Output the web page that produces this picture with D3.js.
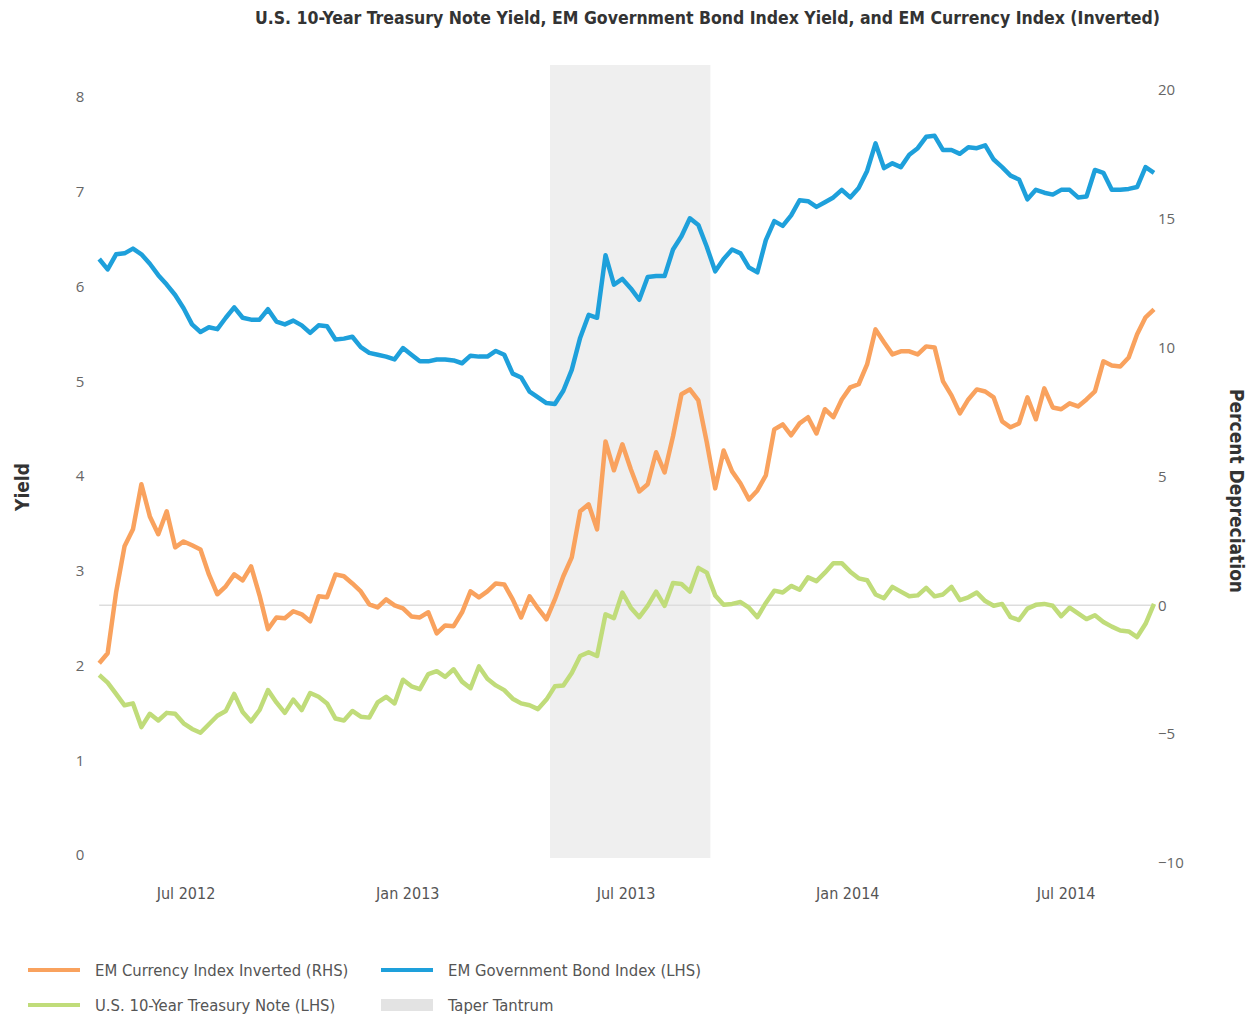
<!DOCTYPE html>
<html>
<head>
<meta charset="utf-8">
<script src="https://cdn.jsdelivr.net/npm/d3@7"></script>
<style>
  body { margin: 0; background: #fff; }
  svg { display: block; }
  .title { font-family: "Liberation Sans Narrow", "DejaVu Sans Condensed", sans-serif; font-weight: bold; font-size: 18px; fill: #333; }
  .ytick { font-family: "Open Sans", sans-serif; font-size: 15px; fill: #666; }
  .xtick { font-family: "Liberation Sans Narrow", "DejaVu Sans Condensed", sans-serif; font-size: 16px; fill: #555; }
  .atitle { font-family: "Liberation Sans Narrow", "DejaVu Sans Condensed", sans-serif; font-weight: bold; font-size: 19px; fill: #333; }
  .legend { font-family: "Liberation Sans Narrow", "DejaVu Sans Condensed", sans-serif; font-size: 16.5px; fill: #555; }
</style>
</head>
<body>
<svg id="chart" width="1254" height="1015"></svg>
<script>
// weekly observations, Fridays from 20 Apr 2012 to 12 Sep 2014
var weeks = d3.timeFriday.range(new Date(2012, 3, 20), new Date(2014, 8, 13));

// EM Government Bond Index yield (LHS, %)
var emBond = [
  6.29, 6.18, 6.34, 6.35, 6.40, 6.34, 6.24, 6.12, 6.02, 5.91,
  5.77, 5.60, 5.52, 5.57, 5.55, 5.67, 5.78, 5.67, 5.65, 5.65,
  5.76, 5.63, 5.60, 5.64, 5.59, 5.51, 5.59, 5.58, 5.44, 5.45,
  5.47, 5.36, 5.30, 5.28, 5.26, 5.23, 5.35, 5.28, 5.21, 5.21,
  5.23, 5.23, 5.22, 5.19, 5.27, 5.26, 5.26, 5.32, 5.28, 5.08,
  5.04, 4.89, 4.83, 4.77, 4.76, 4.90, 5.12, 5.46, 5.70, 5.67,
  6.33, 6.02, 6.08, 5.98, 5.86, 6.10, 6.11, 6.11, 6.39, 6.53,
  6.72, 6.65, 6.42, 6.16, 6.29, 6.39, 6.35, 6.20, 6.15, 6.49,
  6.69, 6.64, 6.75, 6.91, 6.90, 6.84, 6.89, 6.94, 7.02, 6.94,
  7.04, 7.22, 7.51, 7.25, 7.30, 7.26, 7.39, 7.46, 7.58, 7.59,
  7.44, 7.44, 7.40, 7.47, 7.46, 7.49, 7.34, 7.26, 7.17, 7.13,
  6.92, 7.02, 6.99, 6.97, 7.02, 7.02, 6.94, 6.95, 7.23, 7.20,
  7.02, 7.02, 7.03, 7.05, 7.26, 7.20
];

// U.S. 10-Year Treasury Note yield (LHS, %)
var ust10 = [
  1.90, 1.82, 1.70, 1.58, 1.60, 1.35, 1.49, 1.42, 1.50, 1.49,
  1.39, 1.33, 1.29, 1.38, 1.47, 1.52, 1.70, 1.51, 1.41, 1.53,
  1.74, 1.61, 1.50, 1.64, 1.53, 1.71, 1.67, 1.60, 1.44, 1.42,
  1.52, 1.46, 1.45, 1.61, 1.67, 1.60, 1.85, 1.78, 1.75, 1.91,
  1.94, 1.88, 1.96, 1.83, 1.76, 1.99, 1.86, 1.79, 1.74, 1.65,
  1.60, 1.58, 1.54, 1.64, 1.78, 1.79, 1.92, 2.10, 2.14, 2.10,
  2.54, 2.50, 2.77, 2.61, 2.51, 2.63, 2.78, 2.63, 2.87, 2.86,
  2.78, 3.03, 2.98, 2.74, 2.64, 2.65, 2.67, 2.61, 2.51, 2.66,
  2.79, 2.77, 2.84, 2.80, 2.93, 2.89, 2.98, 3.08, 3.08, 2.99,
  2.92, 2.90, 2.75, 2.71, 2.83, 2.78, 2.73, 2.74, 2.82, 2.73,
  2.75, 2.83, 2.69, 2.72, 2.77, 2.68, 2.63, 2.65, 2.51, 2.48,
  2.60, 2.64, 2.65, 2.63, 2.52, 2.61, 2.55, 2.49, 2.53, 2.46,
  2.41, 2.37, 2.36, 2.30, 2.44, 2.65
];

// EM Currency Index inverted (RHS, percent depreciation)
var emCcy = [
  -2.25, -1.86, 0.50, 2.29, 2.95, 4.70, 3.45, 2.76, 3.65, 2.25,
  2.48, 2.33, 2.17, 1.20, 0.43, 0.74, 1.20, 0.97, 1.51, 0.39,
  -0.93, -0.47, -0.50, -0.23, -0.35, -0.62, 0.35, 0.31, 1.20, 1.13,
  0.85, 0.54, 0.04, -0.08, 0.23, 0.00, -0.12, -0.43, -0.47, -0.27,
  -1.09, -0.78, -0.81, -0.27, 0.54, 0.31, 0.54, 0.85, 0.81, 0.23,
  -0.47, 0.35, -0.12, -0.54, 0.23, 1.13, 1.86, 3.65, 3.92, 2.95,
  6.36, 5.24, 6.25, 5.28, 4.42, 4.70, 5.94, 5.16, 6.56, 8.19,
  8.38, 7.95, 6.33, 4.54, 6.01, 5.20, 4.73, 4.11, 4.46, 5.04,
  6.83, 7.02, 6.60, 7.06, 7.30, 6.67, 7.61, 7.30, 7.99, 8.46,
  8.58, 9.35, 10.71, 10.21, 9.74, 9.86, 9.86, 9.74, 10.05, 10.01,
  8.69, 8.15, 7.45, 7.99, 8.38, 8.30, 8.07, 7.14, 6.91, 7.06,
  8.07, 7.22, 8.42, 7.68, 7.61, 7.84, 7.72, 7.99, 8.30, 9.47,
  9.31, 9.27, 9.62, 10.52, 11.18, 11.49
];

var taper = [new Date(2013, 3, 29), new Date(2013, 8, 9)];

var leftTicks = [0, 1, 2, 3, 4, 5, 6, 7, 8];
var rightTicks = [-10, -5, 0, 5, 10, 15, 20];
var xTicks = [new Date(2012, 6, 1), new Date(2013, 0, 1), new Date(2013, 6, 1), new Date(2014, 0, 1), new Date(2014, 6, 1)];

var colors = { ccy: "#f9a25e", bond: "#1ea0db", ust: "#c0dc7a", band: "#efefef" };

var plotTop = 65, plotBottom = 858;

var svg = d3.select("#chart");

var x = d3.scaleTime()
	.domain([new Date(2012, 6, 1), new Date(2014, 6, 1)])
	.range([186, 1066]);
var yL = d3.scaleLinear().domain([0, 8]).range([855, 97]);
var yR = d3.scaleLinear().domain([-10, 20]).range([863, 90]);

// taper tantrum band
svg.append("rect")
	.attr("x", x(taper[0]))
	.attr("width", x(taper[1]) - x(taper[0]))
	.attr("y", plotTop)
	.attr("height", plotBottom - plotTop)
	.attr("fill", colors.band);

// zero line of the right axis
svg.append("line")
	.attr("x1", x(weeks[0]))
	.attr("x2", x(weeks[weeks.length - 1]))
	.attr("y1", yR(0))
	.attr("y2", yR(0))
	.attr("stroke", "#dddddd")
	.attr("stroke-width", 1.5);

// left axis labels
svg.append("g").selectAll("text")
	.data(leftTicks)
	.enter().append("text")
	.attr("class", "ytick")
	.attr("x", 80)
	.attr("y", function(d) { return yL(d); })
	.attr("dy", "0.35em")
	.attr("text-anchor", "middle")
	.text(function(d) { return d; });

// right axis labels
svg.append("g").selectAll("text")
	.data(rightTicks)
	.enter().append("text")
	.attr("class", "ytick")
	.attr("x", 1158)
	.attr("y", function(d) { return yR(d); })
	.attr("dy", "0.35em")
	.text(function(d) { return d3.format("d")(d); });

// x axis labels
svg.append("g").selectAll("text")
	.data(xTicks)
	.enter().append("text")
	.attr("class", "xtick")
	.attr("x", function(d) { return x(d); })
	.attr("y", 899)
	.attr("text-anchor", "middle")
	.text(d3.timeFormat("%b %Y"));

// lines
function drawLine(values, scale, color) {
	var line = d3.line()
		.x(function(d, i) { return x(weeks[i]); })
		.y(function(d) { return scale(d); });
	svg.append("path")
		.datum(values)
		.attr("d", line)
		.attr("fill", "none")
		.attr("stroke", color)
		.attr("stroke-width", 4.5)
		.attr("stroke-linejoin", "round");
}
drawLine(ust10, yL, colors.ust);
drawLine(emCcy, yR, colors.ccy);
drawLine(emBond, yL, colors.bond);

// titles
svg.append("text")
	.attr("class", "title")
	.attr("x", 1160)
	.attr("y", 24)
	.attr("text-anchor", "end")
	.attr("textLength", 905)
	.attr("lengthAdjust", "spacingAndGlyphs")
	.text("U.S. 10-Year Treasury Note Yield, EM Government Bond Index Yield, and EM Currency Index (Inverted)");

svg.append("text")
	.attr("class", "atitle")
	.attr("transform", "translate(29,487) rotate(-90)")
	.attr("text-anchor", "middle")
	.text("Yield");

svg.append("text")
	.attr("class", "atitle")
	.attr("transform", "translate(1230,491) rotate(90)")
	.attr("text-anchor", "middle")
	.text("Percent Depreciation");

// legend
var legendItems = [
	{ label: "EM Currency Index Inverted (RHS)", color: colors.ccy, kind: "line", col: 0, row: 0 },
	{ label: "EM Government Bond Index (LHS)", color: colors.bond, kind: "line", col: 1, row: 0 },
	{ label: "U.S. 10-Year Treasury Note (LHS)", color: colors.ust, kind: "line", col: 0, row: 1 },
	{ label: "Taper Tantrum", color: "#e3e3e3", kind: "box", col: 1, row: 1 }
];

var legend = svg.append("g").selectAll("g")
	.data(legendItems)
	.enter().append("g")
	.attr("transform", function(d) { return "translate(" + (28 + d.col * 353) + "," + (970 + d.row * 35) + ")"; });

legend.filter(function(d) { return d.kind == "line"; })
	.append("rect")
	.attr("x", 0)
	.attr("y", -2)
	.attr("width", 52)
	.attr("height", 4)
	.attr("fill", function(d) { return d.color; });

legend.filter(function(d) { return d.kind == "box"; })
	.append("rect")
	.attr("x", 0)
	.attr("y", -6)
	.attr("width", 52)
	.attr("height", 12)
	.attr("fill", function(d) { return d.color; });

legend.append("text")
	.attr("class", "legend")
	.attr("x", 67)
	.attr("dy", "0.35em")
	.text(function(d) { return d.label; });
</script>
</body>
</html>
